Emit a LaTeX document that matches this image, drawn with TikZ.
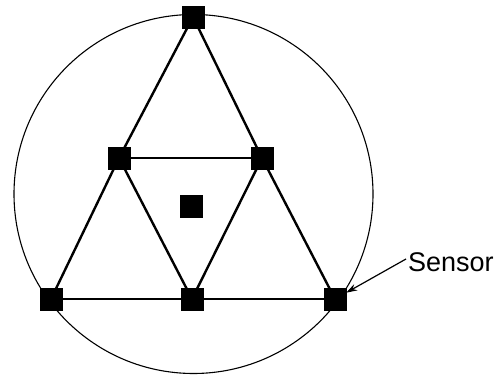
\documentclass[tikz,border=0pt]{standalone}
\usepackage{fontspec}
\setmainfont{Liberation Sans}
\usetikzlibrary{arrows.meta}
\begin{document}
\begin{tikzpicture}[x=1pt,y=-1pt,
  sensorbox/.style={rectangle,fill=black,draw=black,minimum size=22pt,inner sep=0pt},
  edge/.style={line width=2.4pt},
  ringline/.style={line width=1.1pt},
  pointer/.style={line width=1.2pt,-{Stealth[length=11pt,width=7pt]}}]
\useasboundingbox (0,0) rectangle (498,379);
\node (ring) [circle,draw,ringline,minimum size=359pt,inner sep=0pt] at (193.5,194) {};
\node (T) [sensorbox] at (193,17) {};
\node (ML) [sensorbox] at (119,158) {};
\node (MR) [sensorbox] at (262,158) {};
\node (C) [sensorbox] at (191,206) {};
\node (BL) [sensorbox] at (51,299) {};
\node (BM) [sensorbox] at (192,299) {};
\node (BR) [sensorbox] at (335,299) {};
\draw[edge] (T.center) -- (ML.center);
\draw[edge] (T.center) -- (MR.center);
\draw[edge] (ML.center) -- (MR.center);
\draw[edge] (ML.center) -- (BL.center);
\draw[edge] (ML.center) -- (BM.center);
\draw[edge] (MR.center) -- (BM.center);
\draw[edge] (MR.center) -- (BR.center);
\draw[edge] (BL.center) -- (BM.center);
\draw[edge] (BM.center) -- (BR.center);
\node (lbl) [anchor=west,inner sep=2pt,font=\fontsize{27}{31}\selectfont] at (406,262) {Sensor};
\draw[pointer] (lbl.west) ++(0,-3) coordinate (ps) (ps) -- (BR);
\end{tikzpicture}
\end{document}
